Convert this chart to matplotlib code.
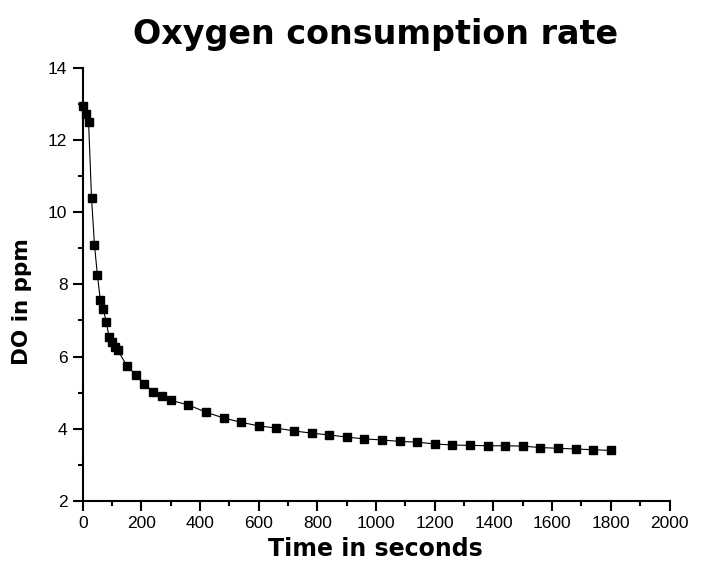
import matplotlib.pyplot as plt
from matplotlib.ticker import MultipleLocator

# time (s) and dissolved oxygen (ppm)
times = [0, 10, 20, 30, 40, 50, 60, 70, 80, 90, 100, 110, 120,
         150, 180, 210, 240, 270, 300,
         360, 420, 480, 540, 600, 660, 720, 780, 840,
         900, 960, 1020, 1080, 1140, 1200, 1260, 1320, 1380, 1440,
         1500, 1560, 1620, 1680, 1740, 1800]
do_ppm = [12.95, 12.72, 12.49, 10.40, 9.10, 8.26, 7.57, 7.33, 6.96, 6.54, 6.40, 6.26, 6.17,
          5.75, 5.50, 5.25, 5.02, 4.90, 4.79,
          4.66, 4.46, 4.30, 4.18, 4.08, 4.02, 3.94, 3.88, 3.83,
          3.77, 3.72, 3.69, 3.65, 3.63, 3.58, 3.55, 3.54, 3.53, 3.53,
          3.52, 3.48, 3.46, 3.44, 3.42, 3.40]

fig = plt.figure(figsize=(7.04, 5.65), dpi=100)
ax = fig.add_axes([0.1175, 0.1133, 0.8335, 0.7667])

ax.plot(times, do_ppm, c='black', lw=0.8, marker='s', ms=6,
        mfc='black', mec='black', clip_on=False)

ax.set_xlim(0, 2000)
ax.set_ylim(2, 14)
ax.xaxis.set_major_locator(MultipleLocator(200))
ax.xaxis.set_minor_locator(MultipleLocator(100))
ax.yaxis.set_major_locator(MultipleLocator(2))
ax.yaxis.set_minor_locator(MultipleLocator(1))

for side in ['top', 'right']:
    ax.spines[side].set_visible(False)
for side in ['left', 'bottom']:
    ax.spines[side].set_linewidth(1.5)

ax.tick_params(which='major', direction='out', length=7, width=1.5,
               labelsize=12.5, pad=4)
ax.tick_params(which='minor', direction='out', length=3.5, width=1.5)
for lab in ax.get_xticklabels() + ax.get_yticklabels():
    lab.set_fontfamily('Liberation Sans')

fig.text(0.533, 0.9216, 'Oxygen consumption rate', ha='center', va='baseline',
         fontsize=24, fontweight='bold', family='DejaVu Sans')
fig.text(0.533, 0.016, 'Time in seconds', ha='center', va='baseline',
         fontsize=17, fontweight='bold', family='DejaVu Sans')
fig.text(0.031, 0.467, 'DO in ppm', ha='center', va='center', rotation=90,
         fontsize=15.5, fontweight='bold', family='DejaVu Sans')

fig.savefig('out.png', dpi=100)
